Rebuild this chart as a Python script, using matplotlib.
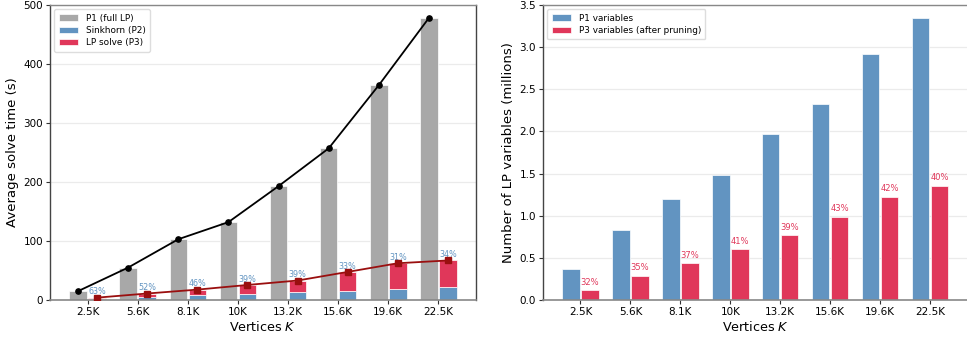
import matplotlib
matplotlib.use("Agg")
import matplotlib.pyplot as plt
import numpy as np

categories = ["2.5K", "5.6K", "8.1K", "10K", "13.2K", "15.6K", "19.6K", "22.5K"]
p1_time = [15, 55, 103, 132, 193, 257, 364, 478]
sinkhorn_time = [2.5, 5.7, 8.1, 10.0, 12.9, 15.7, 19.3, 22.8]
lp_time = [1.5, 5.3, 9.5, 15.5, 20.1, 31.9, 43.0, 44.2]
sinkhorn_pct = ["63%", "52%", "46%", "39%", "39%", "33%", "31%", "34%"]

p1_vars = [0.37, 0.83, 1.20, 1.48, 1.97, 2.33, 2.92, 3.35]
p3_vars = [0.115, 0.29, 0.44, 0.605, 0.77, 0.99, 1.225, 1.355]
p3_pct = ["32%", "35%", "37%", "41%", "39%", "43%", "42%", "40%"]

GRAY = "#A8A8A8"
BLUE = "#6294C1"
RED = "#E0375A"
DARKRED = "#9A0F0F"

fig = plt.figure(figsize=(9.67, 3.38), dpi=100)
axL = fig.add_axes([50/967, 38/338, 426/967, 295/338])
axR = fig.add_axes([543/967, 38/338, 424.5/967, 295/338])

x = np.arange(len(categories))
w = 0.35
off = 0.19

def style(ax):
    ax.set_axisbelow(True)
    ax.yaxis.grid(True, color="#ebebeb", lw=0.9)
    ax.xaxis.grid(False)
    for s in ["left", "right", "top"]:
        ax.spines[s].set_color("#444444")
        ax.spines[s].set_linewidth(1.0)
    ax.spines["top"].set_color("#888888")
    ax.spines["bottom"].set_color("#888888")
    ax.spines["bottom"].set_linewidth(1.2)
    ax.tick_params(axis="both", labelsize=7.5, length=3, width=0.8, color="#333333", pad=2)
    ax.set_xticks(x)
    ax.set_xticklabels(categories)
    ax.set_xlim(-0.75, 7.75)
    ax.set_xlabel("Vertices $K$", fontsize=9.2, labelpad=2)

# Left chart
sink = np.array(sinkhorn_time)
lp = np.array(lp_time)
tot = sink + lp
axL.bar(x - off, p1_time, w, color=GRAY, edgecolor="white", linewidth=0.5, label="P1 (full LP)", zorder=2)
axL.bar(x + off, sink, w, color=BLUE, edgecolor="white", linewidth=0.5, label="Sinkhorn (P2)", zorder=2)
axL.bar(x + off, lp, w, bottom=sink, color=RED, edgecolor="white", linewidth=0.5, label="LP solve (P3)", zorder=2)
for xi, t, s in zip(x, tot, sinkhorn_pct):
    axL.text(xi + off, t + 2, s, ha="center", va="bottom", fontsize=5.8, color=BLUE, zorder=3)
axL.plot(x - off, p1_time, color="black", lw=1.3, marker="o", ms=3.8, zorder=4)
axL.plot(x + off, tot, color=DARKRED, lw=1.3, marker="s", ms=3.8, zorder=4)
axL.set_ylim(0, 500)
axL.set_yticks(np.arange(0, 501, 100))
axL.set_ylabel("Average solve time (s)", fontsize=9.5, labelpad=3)
style(axL)
axL.legend(loc="upper left", fontsize=6.4, frameon=True, framealpha=1, edgecolor="#dddddd",
           handlelength=2.2, handleheight=0.8, borderpad=0.5, labelspacing=0.35)

# Right chart
axR.bar(x - off, p1_vars, w, color=BLUE, edgecolor="white", linewidth=0.5, label="P1 variables", zorder=2)
axR.bar(x + off, p3_vars, w, color=RED, edgecolor="white", linewidth=0.5, label="P3 variables (after pruning)", zorder=2)
for xi, v, s in zip(x, p3_vars, p3_pct):
    axR.text(xi + off, v + 0.04, s, ha="center", va="bottom", fontsize=6.0, color=RED, zorder=3)
axR.set_ylim(0, 3.5)
axR.set_yticks(np.arange(0, 3.51, 0.5))
axR.set_ylabel("Number of LP variables (millions)", fontsize=9.5, labelpad=3)
style(axR)
axR.spines["right"].set_visible(False)
axR.legend(loc="upper left", fontsize=6.4, frameon=True, framealpha=1, edgecolor="#dddddd",
           handlelength=2.2, handleheight=0.8, borderpad=0.5, labelspacing=0.35)

fig.savefig("out.png", dpi=100)
